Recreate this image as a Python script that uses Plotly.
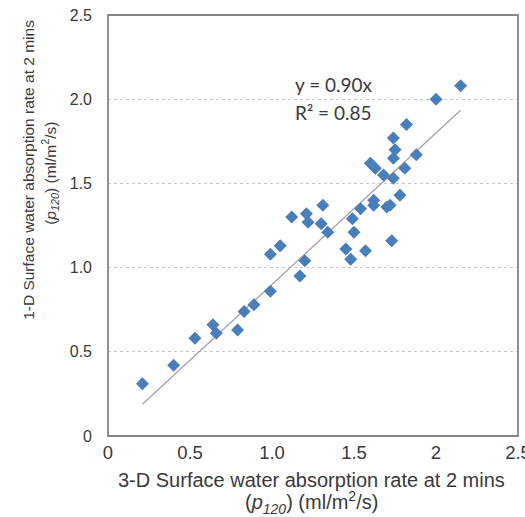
import plotly.graph_objects as go

# data
x_3d = [2.15, 2.00, 1.82, 1.74, 1.75, 1.74, 1.88, 1.60, 1.63, 1.81, 1.68, 1.74,
        1.78, 1.62, 1.62, 1.70, 1.72, 1.54, 1.49, 1.31, 1.21, 1.12, 1.22, 1.30,
        1.34, 1.50, 1.73, 1.45, 1.48, 1.57, 1.05, 0.99, 1.20, 1.17, 0.99, 0.89,
        0.83, 0.79, 0.64, 0.66, 0.53, 0.40, 0.21]
y_1d = [2.08, 2.00, 1.85, 1.77, 1.70, 1.65, 1.67, 1.62, 1.59, 1.59, 1.55, 1.53,
        1.43, 1.40, 1.37, 1.36, 1.37, 1.35, 1.29, 1.37, 1.32, 1.30, 1.27, 1.26,
        1.21, 1.21, 1.16, 1.11, 1.05, 1.10, 1.13, 1.08, 1.04, 0.95, 0.86, 0.78,
        0.74, 0.63, 0.66, 0.61, 0.58, 0.42, 0.31]
slope = 0.90
r_squared = 0.85
x_tickvals = [0, 0.5, 1.0, 1.5, 2.0, 2.5]
x_ticktext = ["0", "0.5", "1.0", "1.5", "2", "2.5"]
y_tickvals = [0, 0.5, 1.0, 1.5, 2.0, 2.5]
y_ticktext = ["0", "0.5", "1.0", "1.5", "2.0", "2.5"]

trend_x = [min(x_3d), max(x_3d)]
trend_y = [slope * v for v in trend_x]

TXT = "#3a3a3a"
FONT = "Liberation Sans, Arial, sans-serif"
LBL = "Lato, Open Sans, sans-serif"

fig = go.Figure()
fig.add_trace(go.Scatter(x=trend_x, y=trend_y, mode="lines",
                         line=dict(color="#a3a3a3", width=1.3),
                         hoverinfo="skip", showlegend=False))
fig.add_trace(go.Scatter(x=x_3d, y=y_1d, mode="markers",
                         marker=dict(symbol="diamond", size=10, color="#4a7ebb",
                                     line=dict(width=0)),
                         showlegend=False))

W, H = 525, 517
PL, PR, PT, PB = 108, 518.3, 15, 436.5   # plot frame in window pixels
pw = PR - PL
ph = PB - PT

fig.update_layout(
    width=W, height=H,
    margin=dict(l=PL, r=W - PR, t=PT, b=H - PB, autoexpand=False),
    paper_bgcolor="white", plot_bgcolor="white",
    font=dict(family=FONT, color=TXT),
    xaxis=dict(range=[0, 2.5], tickvals=x_tickvals, ticktext=x_ticktext,
               showgrid=False, zeroline=False, showline=False, ticks="",
               tickfont=dict(size=18.5, family=FONT, color=TXT),
               ticklabelstandoff=3, ticklabeloverflow="allow"),
    yaxis=dict(range=[0, 2.5], tickvals=y_tickvals, ticktext=y_ticktext,
               showgrid=True, gridcolor="#c9c9c9", griddash="dot", gridwidth=1,
               zeroline=False, showline=False, ticks="",
               tickfont=dict(size=16, family=FONT, color=TXT),
               ticklabelstandoff=15, ticklabeloverflow="allow"),
    shapes=[dict(type="rect", xref="paper", yref="paper", x0=0, x1=1, y0=0, y1=1,
                 line=dict(color="#868686", width=1.8), layer="above")],
)


def px_x(p):
    return (p - PL) / pw


def px_y(p):
    return (PB - p) / ph


ann = []
ann.append(dict(text=f"y = {slope:.2f}x", xref="paper", yref="paper",
                x=px_x(293), y=px_y(85), xanchor="left", yanchor="middle",
                showarrow=False, font=dict(family=LBL, size=19, color=TXT)))
ann.append(dict(text=f"R² = {r_squared:.2f}", xref="paper", yref="paper",
                x=px_x(293), y=px_y(113), xanchor="left", yanchor="middle",
                showarrow=False, font=dict(family=LBL, size=19, color=TXT)))
ann.append(dict(text="3-D Surface water absorption rate at 2 mins",
                xref="paper", yref="paper", x=px_x(312), y=px_y(481),
                xanchor="center", yanchor="middle", showarrow=False,
                font=dict(family=FONT, size=20, color=TXT)))
ann.append(dict(text="(<i>p</i><sub><i>120</i></sub>) (ml/m<sup>2</sup>/s)",
                xref="paper", yref="paper", x=px_x(312), y=px_y(503),
                xanchor="center", yanchor="middle", showarrow=False,
                font=dict(family=FONT, size=20, color=TXT)))
ann.append(dict(text="1-D Surface water absorption rate at 2 mins",
                xref="paper", yref="paper", x=px_x(29), y=px_y(170),
                xanchor="center", yanchor="middle", showarrow=False, textangle=-90,
                font=dict(family=FONT, size=15.5, color=TXT)))
ann.append(dict(text="(<i>p</i><sub><i>120</i></sub>) (ml/m<sup>2</sup>/s)",
                xref="paper", yref="paper", x=px_x(50), y=px_y(174),
                xanchor="center", yanchor="middle", showarrow=False, textangle=-90,
                font=dict(family=FONT, size=15.5, color=TXT)))
fig.update_layout(annotations=ann)

# remove the default 8px page margin so the figure fills the window exactly
fig.write_html("out.html",
               post_script="document.body.style.margin='0';document.body.style.overflow='hidden';",
               config={"displayModeBar": False})
